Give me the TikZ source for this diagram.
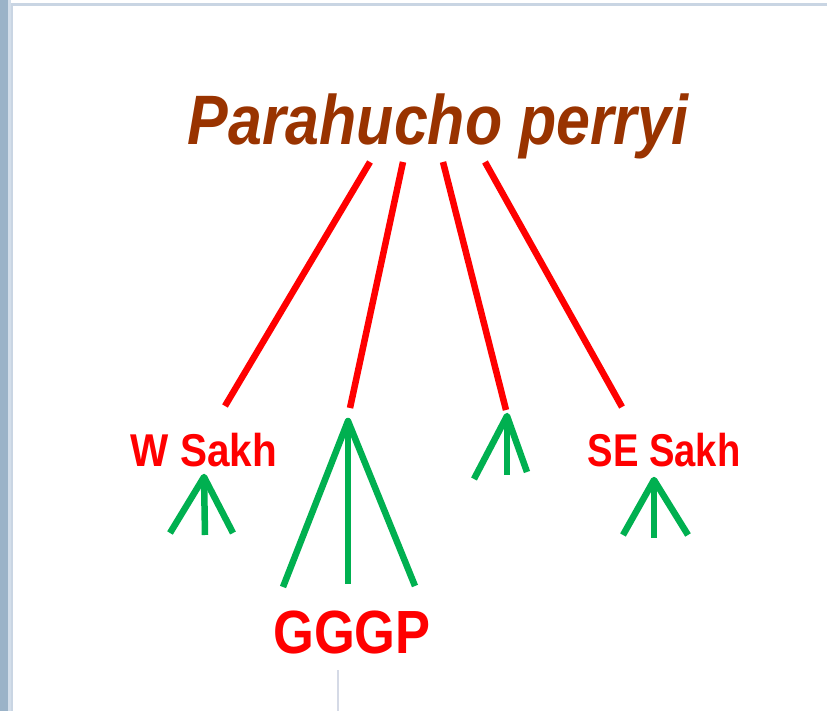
\documentclass[tikz,border=0pt]{standalone}
\usepackage{fontspec}
\setmainfont{Liberation Sans}
\definecolor{titlebrown}{HTML}{993300}
\definecolor{treegreen}{HTML}{00B050}
\definecolor{framedark}{HTML}{9BB3C8}
\definecolor{framelight}{HTML}{D3DEEA}
\definecolor{frameline}{HTML}{C9D5E3}
\definecolor{guide}{HTML}{D5DAE6}
\begin{document}
\begin{tikzpicture}[x=1pt,y=-1pt,
  redline/.style={draw=red,line width=6.5pt,line cap=butt},
  greenline/.style={draw=treegreen,line width=6.5pt,line cap=butt,line join=round},
  label/.style={text=red,inner sep=0pt,anchor=base},
  titletext/.style={text=titlebrown,inner sep=0pt,anchor=base}]
\useasboundingbox (0,0) rectangle (827,711);
\fill[white] (0,0) rectangle (827,711);
% window frame
\fill[framedark] (0,0) rectangle (8,711);
\fill[framelight] (8,0) rectangle (11,711);
\fill[frameline] (11,3) rectangle (827,6);
\fill[frameline] (11,3) rectangle (13,711);
\draw[guide,line width=2pt] (338,670) -- (338,711);

% texts
\node[titletext] (title) at (438,145) {\scalebox{0.87}[1]{\fontsize{70}{70}\selectfont\bfseries\itshape Parahucho perryi}};
\node[label] (wsakh) at (204,466) {\scalebox{0.88}[1]{\fontsize{46}{46}\selectfont\bfseries W Sakh}};
\node[label] (sesakh) at (664,466) {\scalebox{0.83}[1]{\fontsize{46}{46}\selectfont\bfseries SE Sakh}};
\node[label] (gggp) at (352,653) {\scalebox{0.86}[1]{\fontsize{61}{61}\selectfont\bfseries GGGP}};

% red branch coordinates
\coordinate (t1) at (370,162);
\coordinate (t2) at (403,162);
\coordinate (t3) at (443,162);
\coordinate (t4) at (485,162);
\coordinate (b1) at (225,406);
\coordinate (b2) at (350,408);
\coordinate (b3) at (506,410);
\coordinate (b4) at (622,407);
\draw[redline] (t1) -- (b1);
\draw[redline] (t2) -- (b2);
\draw[redline] (t3) -- (b3);
\draw[redline] (t4) -- (b4);

% green trees
\coordinate (a1) at (204,477);
\coordinate (a1l) at (170,533);
\coordinate (a1m) at (205,535);
\coordinate (a1r) at (233,533);
\draw[greenline] (a1l) -- (a1) -- (a1r);
\draw[greenline] (a1) -- (a1m);

\coordinate (a2) at (348,421);
\coordinate (a2l) at (283,587);
\coordinate (a2m) at (348,584);
\coordinate (a2r) at (415,586);
\draw[greenline] (a2l) -- (a2) -- (a2r);
\draw[greenline] (a2) -- (a2m);

\coordinate (a3) at (507,416);
\coordinate (a3l) at (474,479);
\coordinate (a3m) at (507,475);
\coordinate (a3r) at (527,472);
\draw[greenline] (a3l) -- (a3) -- (a3r);
\draw[greenline] (a3) -- (a3m);

\coordinate (a4) at (654,480);
\coordinate (a4l) at (623,535);
\coordinate (a4m) at (654,538);
\coordinate (a4r) at (688,535);
\draw[greenline] (a4l) -- (a4) -- (a4r);
\draw[greenline] (a4) -- (a4m);
\end{tikzpicture}
\end{document}
